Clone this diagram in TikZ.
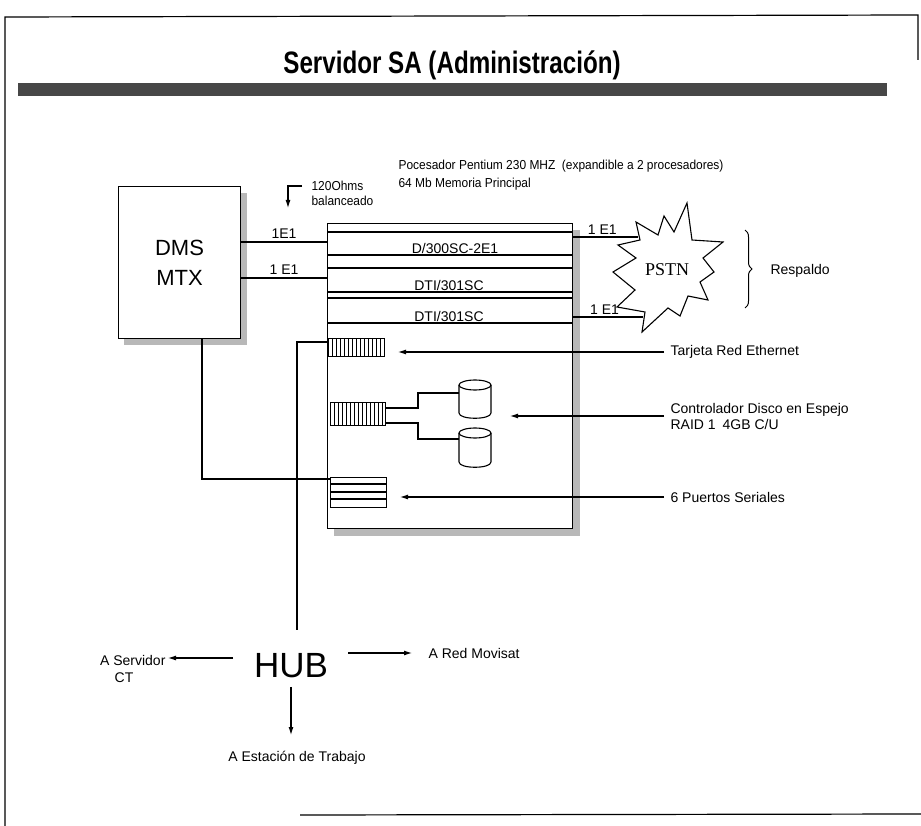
\documentclass[tikz,border=0pt]{standalone}
\usepackage{fontspec}
\setmainfont{Liberation Sans}
\newfontfamily\narrowfont[FakeStretch=0.78]{Liberation Sans}
\newfontfamily\medfont[FakeStretch=0.92]{Liberation Sans}
\newfontfamily\seriffont{Liberation Serif}
\usetikzlibrary{arrows.meta,decorations.pathreplacing}
\begin{document}
\begin{tikzpicture}[x=1pt,y=-1pt,line width=1.1pt,
  lbl/.style={font=\fontsize{14}{16}\selectfont, inner sep=0pt},
  small/.style={font=\medfont\fontsize{13}{15}\selectfont, inner sep=0pt},
  arr/.style={-{Latex[length=8pt,width=5pt]}},
  box/.style={draw, anchor=north west, inner sep=0pt},
  shadowfill/.style={fill=black!28}]
\useasboundingbox (0,0) rectangle (921,826);

% page frame
\draw[line width=1.2pt] (5,826) -- (5,17) -- (918,15) -- (918,60);
\draw[line width=1.2pt] (300,815) -- (921,814);

% title and bar
\node[anchor=base, inner sep=0pt] (title) at (452,74) {\narrowfont\bfseries\fontsize{31}{34}\selectfont Servidor SA (Administración)};
\fill[black!72] (18,83) rectangle (887,96);

% top texts
\node[small, anchor=west] (cpu) at (398,166) {Pocesador Pentium 230 MHZ\enspace(expandible a 2 procesadores)};
\node[small, anchor=west] (mem) at (398,184) {64 Mb Memoria Principal};
\node[small, anchor=west, align=left] (ohm) at (311,193) {120Ohms\\balanceado};
\coordinate (ohmA) at (302,186);
\coordinate (ohmB) at (288,208);
\draw[arr] (ohmA) -| (ohmB);

% DMS box
\fill[shadowfill] (240,193) rectangle (247,345);
\fill[shadowfill] (124,338) rectangle (247,345);
\node[box, fill=white, minimum width=122pt, minimum height=152pt] (dms) at (118,186) {};
\node[font=\fontsize{22}{30}\selectfont, align=center, inner sep=0pt] (dmstxt) at (dms.center) {DMS\\MTX};

% server box
\fill[shadowfill] (572,230) rectangle (580,536);
\fill[shadowfill] (334,528) rectangle (580,536);
\node[box, fill=white, minimum width=245pt, minimum height=305pt] (srv) at (327,223) {};
\foreach \y in {232,255,268,292,298,323} \draw (327,\y) -- (572,\y);
\node[lbl] (s1) at (455,248) {D/300SC-2E1};
\node[lbl] (s2) at (449,285) {DTI/301SC};
\node[lbl] (s3) at (449,316) {DTI/301SC};

% DMS -- server E1 links
\draw (dms.east |- 0,242) -- (srv.west |- 0,242) node[midway, above=3pt, lbl] (e1a) {1E1};
\draw (dms.east |- 0,278) -- (srv.west |- 0,278) node[midway, above=3pt, lbl] (e1b) {1 E1};

% PSTN burst
\draw (636,222) -- (658,235) -- (664,216) -- (674,232) -- (687,203) -- (692,240)
  -- (723,242) -- (703,258) -- (714,272) -- (700,282) -- (708,300) -- (688,296)
  -- (680,316) -- (668,308) -- (642,332) -- (645,312) -- (617,307) -- (635,290)
  -- (613,272) -- (636,258) -- (618,245) -- (640,240) -- cycle;
\node[font=\seriffont\fontsize{18}{20}\selectfont, inner sep=0pt] (pstn) at (667,270) {PSTN};
\coordinate (st1) at (638,237);
\coordinate (st2) at (643,317);
\draw (srv.east |- st1) -- (st1) node[pos=0.45, above=2pt, lbl] (e1c) {1 E1};
\draw (srv.east |- st2) -- (st2) node[pos=0.45, above=2pt, lbl] (e1d) {1 E1};

% brace
\draw[decorate, decoration={brace, amplitude=7pt}, line width=1pt] (745,230) -- (745,308);
\node[lbl, anchor=west] (resp) at (770,271) {Respaldo};

% ethernet card
\node[box, minimum width=56pt, minimum height=18pt] (eth) at (328,338) {};
\foreach \x in {332,336,...,380} \draw[line width=0.7pt] (\x,338) -- (\x,356);
\node[lbl, anchor=west] (ethlbl) at (670,352) {Tarjeta Red Ethernet};
\coordinate (ethtip) at (398,352);
\draw[arr] ([xshift=-6pt]ethlbl.west) -- (ethtip);

% disk controller
\node[box, minimum width=55pt, minimum height=23pt] (ctl) at (330,402) {};
\foreach \x in {334,338,...,382} \draw[line width=0.7pt] (\x,402) -- (\x,425);
\coordinate (d1w) at (459,393);
\coordinate (d2w) at (459,439);
\draw (ctl.east |- 0,408) -| (418,393) -- (d1w);
\draw (ctl.east |- 0,423) -| (418,439) -- (d2w);
\foreach \yt/\yb in {385/413, 433/462} {
  \draw (475,\yt) ellipse [x radius=16, y radius=5];
  \draw (459,\yt) -- (459,\yb) .. controls (459,\yb+7) and (491,\yb+7) .. (491,\yb) -- (491,\yt);
}
\node[lbl, anchor=west, align=left] (ctllbl) at (670,416) {Controlador Disco en Espejo\\RAID 1\enspace 4GB C/U};
\coordinate (ctltip) at (510,416);
\draw[arr] ([xshift=-6pt]ctllbl.west) -- (ctltip);

% serial ports
\node[box, minimum width=56pt, minimum height=30pt] (ser) at (330,477) {};
\foreach \y in {484,492,499} \draw (330,\y) -- (386,\y);
\node[lbl, anchor=west] (serlbl) at (670,497) {6 Puertos Seriales};
\coordinate (sertip) at (400,497);
\draw[arr] ([xshift=-6pt]serlbl.west) -- (sertip);

% DMS to serial ports
\draw (dms.south -| 202,0) |- (ser.west |- 0,479);

% HUB
\node[font=\fontsize{35}{40}\selectfont, inner sep=2pt] (hub) at (291,666) {HUB};
\coordinate (hubtop) at (297,630);
\draw (eth.west |- 0,342) -| (hubtop);
\coordinate (hubL) at (233,658);
\coordinate (ctTip) at (168,658);
\draw[arr] (hubL) -- (ctTip);
\node[lbl, anchor=east] (aserv) at (166,660) {A Servidor};
\node[lbl] (ct) at (124,678) {CT};
\coordinate (hubR) at (348,653);
\coordinate (movTip) at (412,653);
\draw[arr] (hubR) -- (movTip);
\node[lbl, anchor=west] (amov) at (428,653) {A Red Movisat};
\coordinate (wsTip) at (291,735);
\draw[arr] ([yshift=-6pt]hub.south) -- (wsTip);
\node[lbl] (aest) at (297,758) {A Estación de Trabajo};
\end{tikzpicture}
\end{document}
